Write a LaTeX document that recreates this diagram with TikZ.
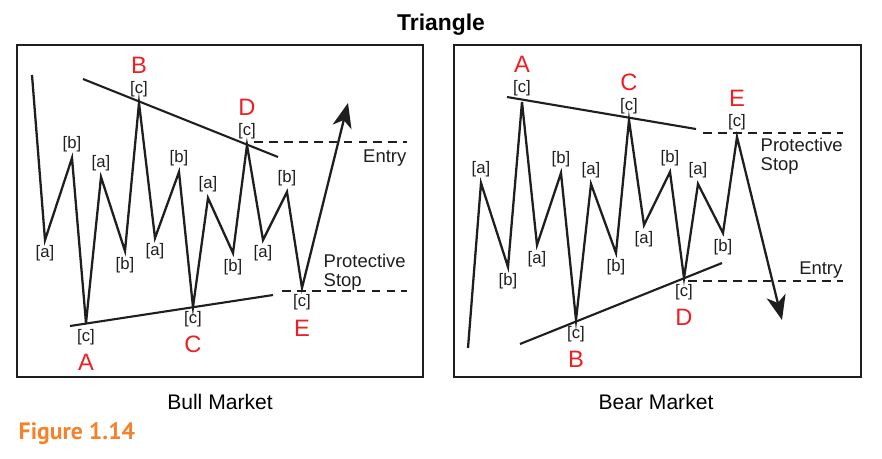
\documentclass[tikz,border=0pt]{standalone}
\usepackage{fontspec}
\setmainfont{Liberation Sans}
\newfontfamily\figfont{PT Sans}
\usepackage{xcolor}
\usepackage{tikz}
\usetikzlibrary{arrows.meta,positioning}
\definecolor{legred}{RGB}{237,32,36}
\definecolor{figorange}{RGB}{243,130,42}
\definecolor{ink}{RGB}{30,30,30}

\begin{document}
\begin{tikzpicture}[x=0.02cm, y=-0.02cm, thick]
    % Styles
    \tikzstyle{panel}=[draw=ink, line width=1.2pt]
    \tikzstyle{wave}=[draw=ink, line width=1.3pt, line join=miter]
    \tikzstyle{trend}=[draw=ink, line width=1.2pt]
    \tikzstyle{level}=[draw=ink, line width=1pt, dash pattern=on 5pt off 3.5pt]
    \tikzstyle{arrow}=[-{Stealth[length=14pt, width=11pt, inset=4pt]}]
    \tikzstyle{sub}=[inner sep=0.5pt, text=ink, font=\fontsize{9.5}{10}\selectfont]
    \tikzstyle{leg}=[inner sep=0pt, text=legred, font=\fontsize{13.5}{14}\selectfont]
    \tikzstyle{note}=[inner sep=0pt, align=left, text=ink, font=\fontsize{10.5}{10.5}\selectfont]

    \useasboundingbox (0,0) rectangle (882,458);

    % Title and captions
    \node (title) at (441,25) {\bfseries\fontsize{13}{14}\selectfont Triangle};
    \node (bullcap) at (220,402) {\fontsize{12}{13}\selectfont Bull Market};
    \node (bearcap) at (656,402) {\fontsize{12}{13}\selectfont Bear Market};
    \node (fig) [anchor=west, inner sep=0pt, text=figorange] at (18,434)
        {\figfont\bfseries\fontsize{13.5}{14}\selectfont Figure 1.14};

    % Frames
    \draw[panel] (17,45) rectangle (423,377);
    \draw[panel] (454,45) rectangle (861,377);

    % ---------------- Bull market ----------------
    \coordinate (bs)  at (32,75);
    \coordinate (ba1) at (45,240);
    \coordinate (bb1) at (72,158);
    \coordinate (bA)  at (86,323);
    \coordinate (ba2) at (101,177);
    \coordinate (bb2) at (125,251);
    \coordinate (bB)  at (139,103);
    \coordinate (ba3) at (155,238);
    \coordinate (bb3) at (179,172);
    \coordinate (bC)  at (193,307);
    \coordinate (ba4) at (208,198);
    \coordinate (bb4) at (233,253);
    \coordinate (bD)  at (247,145);
    \coordinate (ba5) at (263,240);
    \coordinate (bb5) at (287,192);
    \coordinate (bE)  at (302,288);
    \coordinate (btip) at (348,103);

    % trend lines and levels
    \coordinate (bu0) at (83,79);
    \coordinate (bu1) at (278,157);
    \coordinate (bl0) at (70,326);
    \coordinate (bl1) at (273,295);
    \coordinate (bentry0) at (254,142);
    \coordinate (bentry1) at (407,142);
    \coordinate (bstop0) at (282,291);
    \coordinate (bstop1) at (407,291);
    \draw[trend] (bu0) -- (bu1);
    \draw[trend] (bl0) -- (bl1);
    \draw[level] (bentry0) -- (bentry1);
    \draw[level] (bstop0) -- (bstop1);

    \draw[wave, arrow] (bs) -- (ba1) -- (bb1) -- (bA) -- (ba2) -- (bb2) -- (bB)
        -- (ba3) -- (bb3) -- (bC) -- (ba4) -- (bb4) -- (bD) -- (ba5) -- (bb5)
        -- (bE) -- (btip);

    % wave labels
    \node (ba1l) [sub, below=2pt of ba1] {[a]};
    \node (bb1l) [sub, above=2.5pt of bb1] {[b]};
    \node (bAl)  [sub, below=2.5pt of bA] {[c]};
    \node (ba2l) [sub, above=2.5pt of ba2] {[a]};
    \node (bb2l) [sub, below=2.5pt of bb2] {[b]};
    \node (bBl)  [sub, above=2.5pt of bB] {[c]};
    \node (ba3l) [sub, below=2pt of ba3] {[a]};
    \node (bb3l) [sub, above=2.5pt of bb3] {[b]};
    \node (bCl)  [sub, below=1.5pt of bC] {[c]};
    \node (ba4l) [sub, above=2.5pt of ba4] {[a]};
    \node (bb4l) [sub, below=2.5pt of bb4] {[b]};
    \node (bDl)  [sub, above=2.5pt of bD] {[c]};
    \node (ba5l) [sub, below=2pt of ba5] {[a]};
    \node (bb5l) [sub, above=2.5pt of bb5] {[b]};
    \node (bEl)  [sub, below=3pt of bE] {[c]};

    \node (bAn) [leg, below=4pt of bAl] {A};
    \node (bBn) [leg, above=3pt of bBl] {B};
    \node (bCn) [leg, below=4pt of bCl] {C};
    \node (bDn) [leg, above=3pt of bDl] {D};
    \node (bEn) [leg, below=4pt of bEl] {E};

    \node (bentry) [note, anchor=east] at (407,158) {Entry};
    \node (bstop) [note, anchor=west] at (323,272) {Protective\\Stop};

    % ---------------- Bear market ----------------
    \coordinate (rs)  at (468,348);
    \coordinate (ra1) at (481,183);
    \coordinate (rb1) at (508,267);
    \coordinate (rA)  at (522,102);
    \coordinate (ra2) at (537,245);
    \coordinate (rb2) at (561,173);
    \coordinate (rB)  at (576,320);
    \coordinate (ra3) at (591,184);
    \coordinate (rb3) at (616,253);
    \coordinate (rC)  at (629,120);
    \coordinate (ra4) at (644,225);
    \coordinate (rb4) at (670,172);
    \coordinate (rD)  at (684,278);
    \coordinate (ra5) at (698,184);
    \coordinate (rb5) at (723,233);
    \coordinate (rE)  at (737,137);
    \coordinate (rtip) at (782,320);

    % trend lines and levels
    \coordinate (ru0) at (507,97);
    \coordinate (ru1) at (696,129);
    \coordinate (rl0) at (520,344);
    \coordinate (rl1) at (722,263);
    \coordinate (rstop0) at (703,133);
    \coordinate (rstop1) at (843,133);
    \coordinate (rentry0) at (688,281);
    \coordinate (rentry1) at (843,281);
    \draw[trend] (ru0) -- (ru1);
    \draw[trend] (rl0) -- (rl1);
    \draw[level] (rstop0) -- (rstop1);
    \draw[level] (rentry0) -- (rentry1);

    \draw[wave, arrow] (rs) -- (ra1) -- (rb1) -- (rA) -- (ra2) -- (rb2) -- (rB)
        -- (ra3) -- (rb3) -- (rC) -- (ra4) -- (rb4) -- (rD) -- (ra5) -- (rb5)
        -- (rE) -- (rtip);

    % wave labels
    \node (ra1l) [sub, above=2.5pt of ra1] {[a]};
    \node (rb1l) [sub, below=2.5pt of rb1] {[b]};
    \node (rAl)  [sub, above=2.5pt of rA] {[c]};
    \node (ra2l) [sub, below=2.5pt of ra2] {[a]};
    \node (rb2l) [sub, above=2.5pt of rb2] {[b]};
    \node (rBl)  [sub, below=2.5pt of rB] {[c]};
    \node (ra3l) [sub, above=2.5pt of ra3] {[a]};
    \node (rb3l) [sub, below=2.5pt of rb3] {[b]};
    \node (rCl)  [sub, above=2.5pt of rC] {[c]};
    \node (ra4l) [sub, below=2.5pt of ra4] {[a]};
    \node (rb4l) [sub, above=2.5pt of rb4] {[b]};
    \node (rDl)  [sub, below=2.5pt of rD] {[c]};
    \node (ra5l) [sub, above=2.5pt of ra5] {[a]};
    \node (rb5l) [sub, below=2.5pt of rb5] {[b]};
    \node (rEl)  [sub, above=3pt of rE] {[c]};

    \node (rAn) [leg, above=3pt of rAl] {A};
    \node (rBn) [leg, below=4pt of rBl] {B};
    \node (rCn) [leg, above=3pt of rCl] {C};
    \node (rDn) [leg, below=4pt of rDl] {D};
    \node (rEn) [leg, above=3.5pt of rEl] {E};

    \node (rstop) [note, anchor=west] at (760,156) {Protective\\Stop};
    \node (rentry) [note, anchor=east] at (843,270) {Entry};

\end{tikzpicture}
\end{document}
